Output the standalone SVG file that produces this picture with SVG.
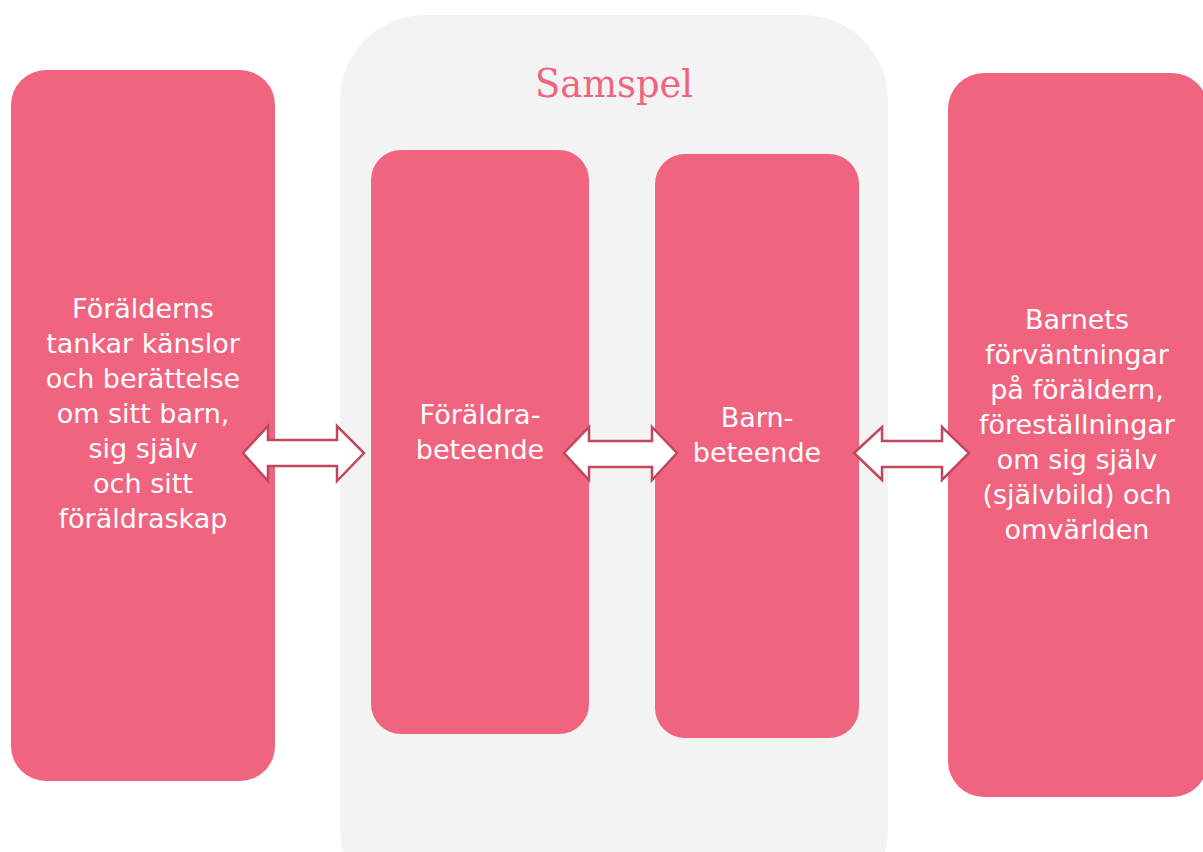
<svg xmlns="http://www.w3.org/2000/svg" width="1203" height="852" viewBox="0 0 1203 852">
<style>
.box{fill:#f06480}
.t{font-family:"DejaVu Sans","Verdana",sans-serif;font-size:27px;fill:#ffffff;text-anchor:middle}
.arr{fill:#ffffff;stroke:#c0475d;stroke-width:2.5;stroke-linejoin:miter}
</style>
<rect x="0" y="0" width="1203" height="852" fill="#ffffff"/>
<g id="samspel">
<rect x="340" y="15" width="548" height="900" rx="85" fill="#f2f3f2"/>
<text x="614" y="97" font-family="'DejaVu Serif','Liberation Serif',serif" font-size="40" fill="#f06480" text-anchor="middle" textLength="158" lengthAdjust="spacingAndGlyphs">Samspel</text>
</g>
<g id="foralderns">
<rect class="box" x="11" y="70" width="264" height="711" rx="35"/>
<text class="t" y="318"><tspan x="143">Förälderns</tspan><tspan x="143" dy="35">tankar känslor</tspan><tspan x="143" dy="35">och berättelse</tspan><tspan x="143" dy="35">om sitt barn,</tspan><tspan x="143" dy="35">sig själv</tspan><tspan x="143" dy="35">och sitt</tspan><tspan x="143" dy="35">föräldraskap</tspan></text>
</g>
<g id="foraldrabeteende">
<rect class="box" x="371" y="150" width="218" height="584" rx="30"/>
<text class="t" y="424"><tspan x="480">Föräldra-</tspan><tspan x="480" dy="35">beteende</tspan></text>
</g>
<g id="barnbeteende">
<rect class="box" x="655" y="154" width="204" height="584" rx="30"/>
<text class="t" y="427"><tspan x="757">Barn-</tspan><tspan x="757" dy="35">beteende</tspan></text>
</g>
<g id="barnets">
<rect class="box" x="948" y="73" width="260" height="724" rx="36"/>
<text class="t" y="329"><tspan x="1077">Barnets</tspan><tspan x="1077" dy="35">förväntningar</tspan><tspan x="1077" dy="35">på föräldern,</tspan><tspan x="1077" dy="35">föreställningar</tspan><tspan x="1077" dy="35">om sig själv</tspan><tspan x="1077" dy="35">(självbild) och</tspan><tspan x="1077" dy="35">omvärlden</tspan></text>
</g>
<g id="connectors">
<polygon class="arr" points="243,453 268,426 268,440 337,440 337,426 364,453 337,481 337,466 268,466 268,481"/>
<polygon class="arr" points="564,453 589,427 589,441 652,441 652,427 677,453 652,480 652,467 589,467 589,480"/>
<polygon class="arr" points="854,453 882,427 882,441 942,441 942,427 969,453 942,480 942,467 882,467 882,480"/>
</g>
</svg>
